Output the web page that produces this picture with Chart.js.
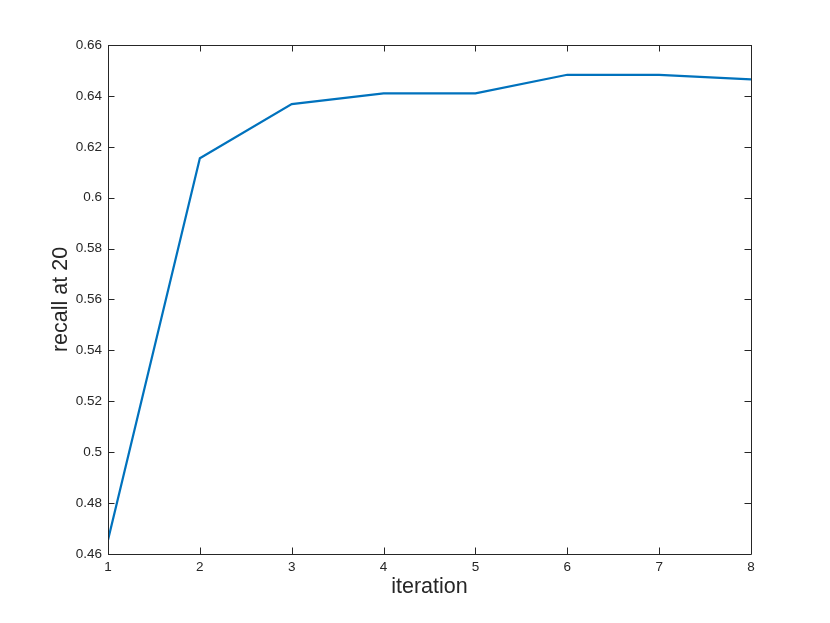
<!DOCTYPE html>
<html>
<head>
<meta charset="utf-8">
<script src="https://cdn.jsdelivr.net/npm/chart.js@4/dist/chart.umd.min.js"></script>
<style>
  html, body { margin: 0; padding: 0; background: #fff; }
  #wrap { width: 830px; height: 623px; position: relative; }
</style>
</head>
<body>
<div id="wrap"><canvas id="c" width="830" height="623"></canvas></div>
<script>
const iterations = [1, 2, 3, 4, 5, 6, 7, 8];
const recallAt20 = [0.4655, 0.6155, 0.6368, 0.641, 0.641, 0.6483, 0.6483, 0.6465];
const yTicks = [0.46, 0.48, 0.5, 0.52, 0.54, 0.56, 0.58, 0.6, 0.62, 0.64, 0.66];
const xLabel = 'iteration';
const yLabel = 'recall at 20';

const axisColor = '#262626';
const tickLen = 6.5;

const boxTicks = {
  id: 'boxTicks',
  afterDraw(chart) {
    const ctx = chart.ctx;
    const a = chart.chartArea;
    const xs = chart.scales.x, ys = chart.scales.y;
    ctx.save();
    ctx.strokeStyle = axisColor;
    ctx.lineWidth = 1;
    ctx.beginPath();
    ctx.rect(Math.round(a.left) + 0.5, Math.round(a.top) + 0.5,
             Math.round(a.right - a.left), Math.round(a.bottom - a.top));
    xs.ticks.forEach(t => {
      const px = Math.round(xs.getPixelForValue(t.value)) + 0.5;
      ctx.moveTo(px, a.bottom); ctx.lineTo(px, a.bottom - tickLen);
      ctx.moveTo(px, a.top); ctx.lineTo(px, a.top + tickLen);
    });
    ys.ticks.forEach(t => {
      const py = Math.round(ys.getPixelForValue(t.value)) + 0.5;
      ctx.moveTo(a.left, py); ctx.lineTo(a.left + tickLen, py);
      ctx.moveTo(a.right, py); ctx.lineTo(a.right - tickLen, py);
    });
    ctx.stroke();
    ctx.restore();
  }
};

new Chart(document.getElementById('c'), {
  type: 'line',
  data: {
    datasets: [{
      data: iterations.map((x, i) => ({ x: x, y: recallAt20[i] })),
      borderColor: '#0072BD',
      borderWidth: 2.2,
      pointRadius: 0,
      fill: false,
      tension: 0
    }]
  },
  options: {
    responsive: false,
    animation: false,
    layout: { padding: { left: 0, right: 79, top: 45, bottom: 0 } },
    plugins: { legend: { display: false }, tooltip: { enabled: false } },
    scales: {
      x: {
        type: 'linear',
        min: 1, max: 8,
        afterFit(s) { s.height = 69; },
        grid: { display: false, drawTicks: false },
        border: { display: false },
        ticks: {
          stepSize: 1, padding: 5, color: axisColor,
          font: { family: 'Liberation Sans, Arial, sans-serif', size: 13.5 },
          maxRotation: 0
        },
        title: {
          display: true, text: xLabel, color: axisColor,
          font: { family: 'Liberation Sans, Arial, sans-serif', size: 21.5 },
          padding: { top: 0, bottom: 23 }
        }
      },
      y: {
        min: 0.46, max: 0.66,
        afterFit(s) { s.width = 108; },
        afterBuildTicks(s) { s.ticks = yTicks.map(v => ({ value: v })); },
        grid: { display: false, drawTicks: false },
        border: { display: false },
        ticks: {
          padding: 6, color: axisColor,
          font: { family: 'Liberation Sans, Arial, sans-serif', size: 13.5 },
          callback: v => String(Math.round(v * 100) / 100)
        },
        title: {
          display: true, text: yLabel, color: axisColor,
          font: { family: 'Liberation Sans, Arial, sans-serif', size: 21.5 },
          padding: { top: 48, bottom: 0 }
        }
      }
    }
  },
  plugins: [boxTicks]
});
</script>
</body>
</html>
